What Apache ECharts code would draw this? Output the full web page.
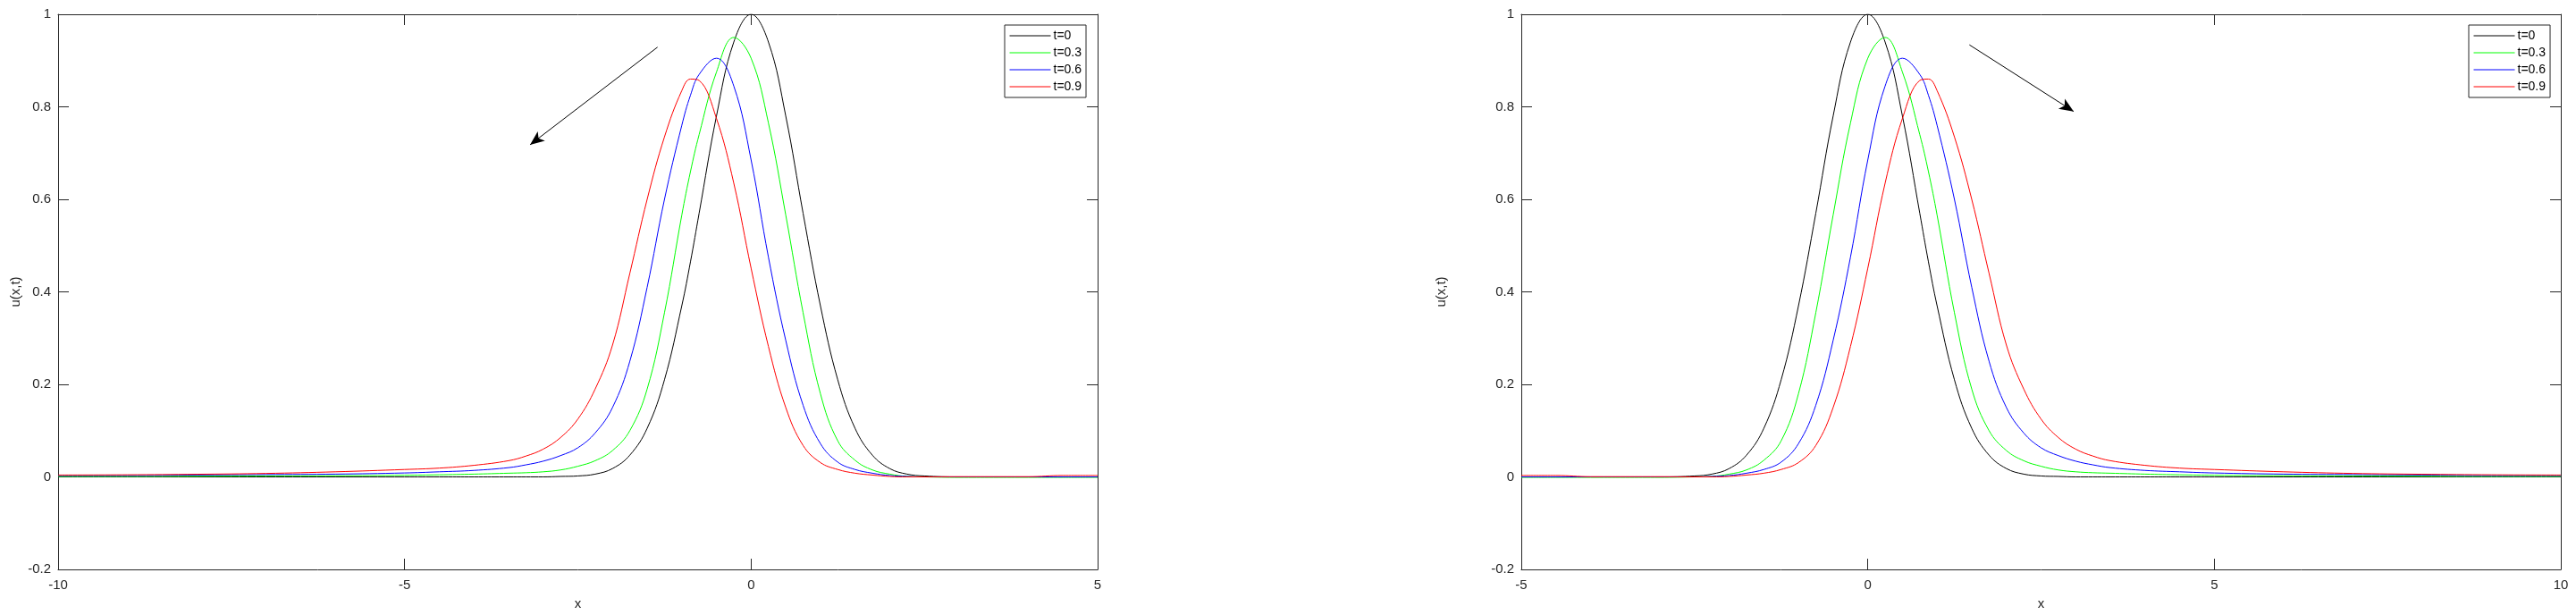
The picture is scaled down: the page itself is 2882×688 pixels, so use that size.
<!DOCTYPE html>
<html><head><meta charset="utf-8">
<script src="https://cdn.jsdelivr.net/npm/echarts@6/dist/echarts.min.js"></script>
<style>html,body{margin:0;padding:0;background:#fff}#c{width:2882px;height:688px}</style>
</head><body><div id="c"></div>
<script>
// Sample positions (left panel) and the mirrored positions (right panel)
const X_LEFT = [-10,-9,-8,-7,-6,-5,-4.5,-4,-3.5,-3.25,-3,-2.75,-2.5,-2.25,-2,-1.75,-1.5,-1.25,-1,-0.875,-0.75,-0.5,-0.25,0,0.25,0.5,0.75,1,1.25,1.5,1.75,2,2.25,2.5,3,3.5,4,4.5,5];
const X_RIGHT = [10,9,8,7,6,5,4.5,4,3.5,3.25,3,2.75,2.5,2.25,2,1.75,1.5,1.25,1,0.875,0.75,0.5,0.25,0,-0.25,-0.5,-0.75,-1,-1.25,-1.5,-1.75,-2,-2.25,-2.5,-3,-3.5,-4,-4.5,-5];

// u(x,t) values
const U_T0  = [0,0,0,0,0,0,0,0,0,0,0,0.001,0.002,0.006,0.018,0.047,0.105,0.21,0.37,0.465,0.57,0.78,0.94,1.0,0.94,0.78,0.57,0.37,0.21,0.105,0.047,0.018,0.006,0.002,0,0,0,0,0];
const U_T03 = [0.001,0.001,0.0015,0.002,0.0025,0.0035,0.0045,0.006,0.008,0.009,0.011,0.015,0.023,0.035,0.057,0.10,0.19,0.355,0.566,0.66,0.74,0.875,0.95,0.905,0.765,0.566,0.355,0.18,0.078,0.036,0.015,0.006,0.001,0,-0.001,-0.001,-0.001,-0.001,-0.001];
const U_T06 = [0.003,0.003,0.004,0.005,0.006,0.0085,0.011,0.014,0.02,0.026,0.034,0.046,0.063,0.095,0.15,0.25,0.41,0.6,0.76,0.825,0.87,0.905,0.845,0.685,0.475,0.295,0.155,0.072,0.032,0.016,0.008,0.003,0.001,0,0,0,0,0,0];
const U_T09 = [0.004,0.0045,0.0057,0.0075,0.011,0.016,0.019,0.025,0.035,0.045,0.06,0.085,0.125,0.19,0.285,0.44,0.6,0.735,0.835,0.86,0.857,0.775,0.635,0.451,0.282,0.15,0.068,0.031,0.016,0.008,0.004,0.001,0,0,0.0005,0.0005,0.0005,0.003,0.003];

const SERIES_NAMES = ['t=0','t=0.3','t=0.6','t=0.9'];
const SERIES_VALUES = [U_T0, U_T03, U_T06, U_T09];
const SERIES_COLORS = ['#000000','#00ff00','#0000ff','#ff0000'];

// Axis ranges / ticks
const X_RANGE_LEFT = [-10, 5];
const X_RANGE_RIGHT = [-5, 10];
const X_INTERVAL = 5;
const Y_RANGE = [-0.2, 1];
const Y_INTERVAL = 0.2;

// Annotation arrows (data coordinates: start, tip)
const ARROW_LEFT = [[-1.35, 0.929], [-3.19, 0.718]];
const ARROW_RIGHT = [[1.466, 0.934], [2.971, 0.790]];

const FONT = "'Liberation Sans', Arial, sans-serif";
const AX = '#262626';

function xAxes(gi, range) {
  const base = {
    type: 'value', gridIndex: gi, min: range[0], max: range[1], interval: X_INTERVAL,
    axisLine: {show: true, onZero: false, lineStyle: {color: AX, width: 1}},
    axisTick: {show: true, inside: true, length: 12, lineStyle: {color: AX, width: 1}},
    splitLine: {show: false}
  };
  return [
    Object.assign({}, base, {position: 'bottom',
      axisLabel: {color: AX, fontSize: 15, fontFamily: FONT, margin: 10},
      name: 'x', nameLocation: 'middle', nameGap: 31,
      nameTextStyle: {color: AX, fontSize: 15, fontFamily: FONT}}),
    Object.assign({}, base, {position: 'top', axisLabel: {show: false}})
  ];
}
function yAxes(gi, nameGap) {
  const base = {
    type: 'value', gridIndex: gi, min: Y_RANGE[0], max: Y_RANGE[1], interval: Y_INTERVAL,
    axisLine: {show: true, onZero: false, lineStyle: {color: AX, width: 1}},
    axisTick: {show: true, inside: true, length: 12, lineStyle: {color: AX, width: 1}},
    splitLine: {show: false}
  };
  return [
    Object.assign({}, base, {position: 'left',
      axisLabel: {color: AX, fontSize: 15, fontFamily: FONT, margin: 8},
      name: 'u(x,t)', nameLocation: 'middle', nameGap: nameGap,
      nameTextStyle: {color: AX, fontSize: 15, fontFamily: FONT}}),
    Object.assign({}, base, {position: 'right', axisLabel: {show: false}})
  ];
}

function curveSeries(xs, gi) {
  return SERIES_NAMES.map((name, i) => ({
    type: 'line', name: name, xAxisIndex: gi * 2, yAxisIndex: gi * 2,
    data: xs.map((x, j) => [x, SERIES_VALUES[i][j]]),
    showSymbol: false, symbol: 'none', smooth: 0.4,
    lineStyle: {color: SERIES_COLORS[i], width: 1},
    itemStyle: {color: SERIES_COLORS[i]},
    z: 2 + i, silent: true
  }));
}
function arrowSeries(arrow, gi) {
  return {
    type: 'line', name: 'arrow' + gi, xAxisIndex: gi * 2, yAxisIndex: gi * 2, data: [],
    markLine: {
      silent: true, symbol: ['none', 'arrow'], symbolSize: [10, 16],
      label: {show: false},
      lineStyle: {color: '#000', width: 1, type: 'solid'},
      data: [[{coord: arrow[0]}, {coord: arrow[1]}]]
    }
  };
}
function legendFor(left) {
  return {
    data: SERIES_NAMES, orient: 'vertical', left: left, top: 28,
    padding: [5, 5, 5, 5], itemWidth: 46, itemHeight: 14, itemGap: 5,
    borderColor: AX, borderWidth: 1, backgroundColor: '#fff',
    selectedMode: false,
    itemStyle: {opacity: 0, borderWidth: 0},
    lineStyle: {width: 1},
    textStyle: {color: '#000', fontSize: 14, fontFamily: FONT, padding: [0, 0, 0, -2]}
  };
}

const chart = echarts.init(document.getElementById('c'), null, {renderer: 'canvas'});
chart.setOption({
  animation: false,
  backgroundColor: '#fff',
  grid: [
    {left: 65, top: 16, width: 1163, height: 624},
    {left: 1702, top: 16, width: 1163, height: 624}
  ],
  xAxis: xAxes(0, X_RANGE_LEFT).concat(xAxes(1, X_RANGE_RIGHT)),
  yAxis: yAxes(0, 40).concat(yAxes(1, 82)),
  legend: [legendFor(1124), legendFor(2762)],
  series: curveSeries(X_LEFT, 0).concat(curveSeries(X_RIGHT, 1),
    [arrowSeries(ARROW_LEFT, 0), arrowSeries(ARROW_RIGHT, 1)])
});
</script></body></html>
